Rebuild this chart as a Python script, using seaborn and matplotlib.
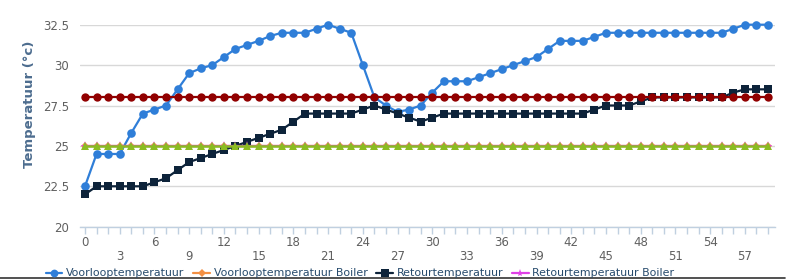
import numpy as np
import pandas as pd
import matplotlib
matplotlib.use("Agg")
import matplotlib.pyplot as plt
import seaborn as sns
from matplotlib.lines import Line2D

# ---- data ----
x_values = list(range(60))
voorloop = [22.5, 24.5, 24.5, 24.5, 25.8, 27.0, 27.25, 27.5, 28.5, 29.5,
            29.8, 30.0, 30.5, 31.0, 31.25, 31.5, 31.8, 32.0, 32.0, 32.0,
            32.25, 32.5, 32.25, 32.0, 30.0, 28.0, 27.5, 27.1, 27.25, 27.5,
            28.3, 29.0, 29.0, 29.0, 29.25, 29.5, 29.75, 30.0, 30.25, 30.5,
            31.0, 31.5, 31.5, 31.5, 31.75, 32.0, 32.0, 32.0, 32.0, 32.0,
            32.0, 32.0, 32.0, 32.0, 32.0, 32.0, 32.25, 32.5, 32.5, 32.5]
retour = [22.0, 22.5, 22.5, 22.5, 22.5, 22.5, 22.75, 23.0, 23.5, 24.0,
          24.25, 24.5, 24.75, 25.0, 25.25, 25.5, 25.75, 26.0, 26.5, 27.0,
          27.0, 27.0, 27.0, 27.0, 27.25, 27.5, 27.25, 27.0, 26.75, 26.5,
          26.75, 27.0, 27.0, 27.0, 27.0, 27.0, 27.0, 27.0, 27.0, 27.0,
          27.0, 27.0, 27.0, 27.0, 27.25, 27.5, 27.5, 27.5, 27.75, 28.0,
          28.0, 28.0, 28.0, 28.0, 28.0, 28.0, 28.3, 28.5, 28.5, 28.5]
voorloop_boiler = [25.0] * 60
retour_boiler = [25.0] * 60
serie_rood = [28.0] * 60
serie_groen = [25.0] * 60

series_names = ["Voorlooptemperatuur", "Voorlooptemperatuur Boiler",
                "Retourtemperatuur", "Retourtemperatuur Boiler",
                "Serie 5", "Serie 6"]
y_ticks = [20, 22.5, 25, 27.5, 30, 32.5]
y_tick_labels = ["20", "22.5", "25", "27.5", "30", "32.5"]

# ---- figure ----
sns.set_theme(style="white")
plt.rcParams["font.family"] = ["DejaVu Sans"]

fig = plt.figure(figsize=(8.0, 2.79), dpi=100)
ax = fig.add_axes([80 / 800, 52.3 / 279, 695 / 800, 202 / 279])

styles = [
    (voorloop, "#2f7ed8", "o", 6.2, 1.6),
    (voorloop_boiler, "#f28f43", "D", 4.5, 1.6),
    (retour, "#0d233a", "s", 6.2, 1.6),
    (retour_boiler, "#e040e8", "*", 6.5, 1.6),
    (serie_rood, "#910000", "o", 6.0, 1.6),
    (serie_groen, "#8bbc21", "^", 5.8, 1.8),
]

handles = []
for (vals, col, mk, ms, lw), name in zip(styles, series_names):
    df = pd.DataFrame({"x": x_values, "y": vals})
    sns.lineplot(data=df, x="x", y="y", ax=ax, color=col, marker=mk,
                 markersize=ms, markeredgewidth=0, linewidth=lw,
                 clip_on=False, legend=False)
    handles.append(Line2D([0], [0], color=col, marker=mk, markersize=ms * 0.9,
                          markeredgewidth=0, linewidth=lw))

ax.set_xlim(-0.43, 59.6)
ax.set_ylim(20, 32.5)
ax.set_yticks(y_ticks)
ax.set_yticklabels(y_tick_labels)
xt = list(range(60))
xl = []
for v in xt:
    if v % 6 == 0:
        xl.append(str(v))
    elif v % 3 == 0:
        xl.append("\n" + str(v))
    else:
        xl.append("")
ax.set_xticks(xt)
ax.set_xticklabels(xl)

ax.grid(axis="y", color="#d8d8d8", linewidth=1.0)
ax.grid(axis="x", visible=False)
for s in ["top", "right", "left"]:
    ax.spines[s].set_visible(False)
ax.spines["bottom"].set_color("#c0d0e0")
ax.spines["bottom"].set_linewidth(1.0)
ax.tick_params(axis="x", colors="#c0d0e0", length=5, width=1, direction="out",
               labelcolor="#606060", labelsize=8.5, pad=2, bottom=True)
ax.tick_params(axis="y", length=0, labelcolor="#606060", labelsize=8.5, pad=8)
for lbl in ax.get_xticklabels():
    lbl.set_linespacing(1.1)

ax.set_xlabel("")
ax.set_ylabel("Temperatuur (°c)", color="#4d6d8f", fontsize=9.5,
              fontweight="bold")
ax.yaxis.set_label_coords(-0.063, 0.605)

leg = fig.legend(handles[:4], series_names[:4], loc="center left",
                 bbox_to_anchor=(46 / 800, 5.5 / 279), ncol=4, frameon=False,
                 fontsize=7.9, handlelength=1.5, handletextpad=0.35,
                 columnspacing=0.8, borderpad=0, borderaxespad=0)
for t in leg.get_texts():
    t.set_color("#274b6d")

fig.add_artist(Line2D([0, 785 / 800], [0.7 / 279, 0.7 / 279],
                      transform=fig.transFigure, color="#333333",
                      linewidth=1.2))

fig.savefig("out.png", dpi=100)
